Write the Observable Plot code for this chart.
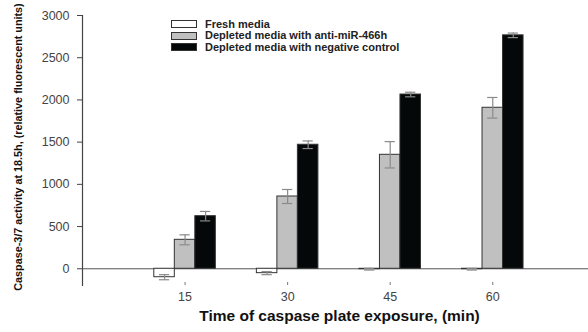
<!DOCTYPE html>
<html>
<head>
<meta charset="utf-8">
<script src="https://cdn.jsdelivr.net/npm/d3@7"></script>
<script src="https://cdn.jsdelivr.net/npm/@observablehq/plot@0.6"></script>
<style>
  html, body { margin: 0; padding: 0; background: #fff; }
  #chart { position: relative; width: 588px; height: 332px; font-family: "Liberation Sans", Arial, sans-serif; }
  .legend { position: absolute; left: 171px; top: 18.5px; font-weight: bold; font-size: 11px; color: #222; line-height: 11.5px; }
  .legend .row { display: flex; align-items: center; height: 11.5px; }
  .legend .sw { width: 24px; height: 6px; border: 1px solid #333; margin-right: 8px; box-sizing: content-box; }
</style>
</head>
<body>
<div id="chart"></div>
<script>
// Exposure times (min)
const times = [15, 30, 45, 60];

// Series labels
const seriesNames = [
  "Fresh media",
  "Depleted media with anti-miR-466h",
  "Depleted media with negative control"
];
const seriesColors = ["#ffffff", "#c0c0c0", "#050808"];

// Caspase-3/7 activity (RFU) and error for each series
const freshMedia = [-100, -52, -5, -5];
const freshErr = [30, 18, 10, 10];
const antiMiR = [343, 856, 1350, 1907];
const antiMiRErr = [59, 83, 156, 122];
const negControl = [623, 1469, 2064, 2765];
const negControlErr = [56, 45, 27, 27];

const yTicks = [0, 500, 1000, 1500, 2000, 2500, 3000];
const yLabel = "Caspase-3/7 activity at 18.5h, (relative fluorescent units)";
const xLabel = "Time of caspase plate exposure, (min)";

// Long table: one row per bar; bars sit side by side around each time
const seriesValues = [freshMedia, antiMiR, negControl];
const seriesErrs = [freshErr, antiMiRErr, negControlErr];
const barW = 3;            // bar width in minutes
const offsets = [-3, 0, 3];
const rows = [];
seriesNames.forEach((name, s) => {
  times.forEach((t, i) => {
    const c = t + offsets[s];
    rows.push({
      series: name, time: t, center: c,
      x1: c - barW / 2, x2: c + barW / 2,
      value: seriesValues[s][i], err: seriesErrs[s][i]
    });
  });
});

const capHalf = 0.75;

const plot = Plot.plot({
  width: 588,
  height: 332,
  marginLeft: 82,
  marginRight: 0,
  marginTop: 15,
  marginBottom: 46,
  style: { fontFamily: "Liberation Sans, Arial, sans-serif", background: "#fff" },
  x: { domain: [0, 74] },
  y: { domain: [-210, 3000] },
  color: { domain: seriesNames, range: seriesColors },
  marks: [
    // zero baseline
    Plot.ruleY([0], { stroke: "#555", strokeWidth: 1 }),
    // bars
    Plot.rectY(rows, {
      x1: "x1", x2: "x2", y1: 0, y2: "value",
      fill: "series", stroke: "#333", strokeWidth: 1, inset: 0
    }),
    // error bars
    Plot.ruleX(rows, {
      x: "center", y1: d => d.value - d.err, y2: d => d.value + d.err,
      stroke: "#8a8a8a", strokeWidth: 1.2
    }),
    Plot.ruleY(rows, {
      y: d => d.value + d.err, x1: d => d.center - capHalf, x2: d => d.center + capHalf,
      stroke: "#8a8a8a", strokeWidth: 1.2
    }),
    Plot.ruleY(rows, {
      y: d => d.value - d.err, x1: d => d.center - capHalf, x2: d => d.center + capHalf,
      stroke: "#8a8a8a", strokeWidth: 1.2
    }),
    // y axis
    Plot.ruleX([0], { stroke: "#444", strokeWidth: 1.2 }),
    Plot.axisY({
      ticks: yTicks, tickSize: 5, tickPadding: 8, tickFormat: d => String(d),
      fontSize: 12.5, color: "#444", stroke: "#444", label: null
    }),
    // x axis: short ticks and labels
    Plot.axisX({
      ticks: times, tickSize: 3, dy: -4, text: null, stroke: "#777", label: null
    }),
    Plot.axisX({
      ticks: times, tickSize: 0, tickPadding: 6, fontSize: 12.5, fill: "#444", label: null
    }),
    // axis titles
    Plot.text([xLabel], {
      frameAnchor: "bottom", dy: 34, dx: 4, text: d => d,
      fontSize: 15.5, fontWeight: "bold", fill: "#111"
    }),
    Plot.text([yLabel], {
      frameAnchor: "left", textAnchor: "middle", dx: -64, dy: -4, rotate: -90, text: d => d,
      fontSize: 10.8, fontWeight: "bold", fill: "#111"
    })
  ]
});

const root = document.getElementById("chart");
root.appendChild(plot);

// Legend inside the plot area
const legend = document.createElement("div");
legend.className = "legend";
seriesNames.forEach((name, i) => {
  const row = document.createElement("div");
  row.className = "row";
  const sw = document.createElement("span");
  sw.className = "sw";
  sw.style.background = seriesColors[i];
  const label = document.createElement("span");
  label.textContent = name;
  row.appendChild(sw);
  row.appendChild(label);
  legend.appendChild(row);
});
root.appendChild(legend);
</script>
</body>
</html>
